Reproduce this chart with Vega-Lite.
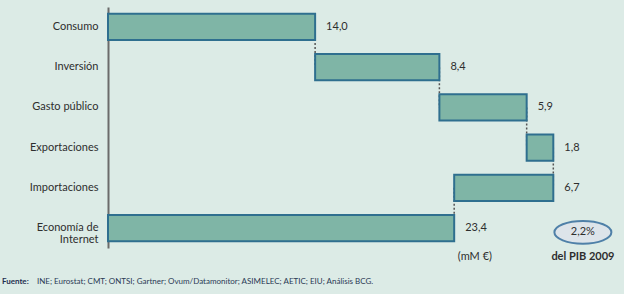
{
  "$schema": "https://vega.github.io/schema/vega-lite/v6.json",
  "autosize": "none",
  "width": 503,
  "height": 241,
  "padding": {"left": 108, "top": 7, "right": 13, "bottom": 46},
  "background": "#dcebe6",
  "config": {"view": {"stroke": null}, "font": "Lato"},
  "datasets": {
    "bars": [
      {"cat": "Consumo", "start": 0, "end": 14.0, "label": "14,0"},
      {"cat": "Inversión", "start": 14.0, "end": 22.4, "label": "8,4"},
      {"cat": "Gasto público", "start": 22.4, "end": 28.3, "label": "5,9"},
      {"cat": "Exportaciones", "start": 28.3, "end": 30.1, "label": "1,8"},
      {"cat": "Importaciones", "start": 23.4, "end": 30.1, "label": "6,7"},
      {"cat": "Economía de Internet", "start": 0, "end": 23.4, "label": "23,4"}
    ],
    "links": [
      {"from": "Consumo", "to": "Inversión", "x": 14.0},
      {"from": "Inversión", "to": "Gasto público", "x": 22.4},
      {"from": "Gasto público", "to": "Exportaciones", "x": 28.3},
      {"from": "Exportaciones", "to": "Importaciones", "x": 30.1},
      {"from": "Importaciones", "to": "Economía de Internet", "x": 23.4}
    ],
    "badge": [
      {"cat": "Economía de Internet", "x": 32.1, "text": "2,2%"}
    ],
    "pib": [
      {"cat": "Economía de Internet", "x": 32.1, "text": "del PIB 2009"}
    ],
    "unit": [
      {"cat": "Economía de Internet", "x": 24.8, "text": "(mM €)"}
    ],
    "srcbold": [
      {"cat": "Economía de Internet", "x": -7.17, "text": "Fuente:"}
    ],
    "src": [
      {"cat": "Economía de Internet", "x": -4.8, "text": "INE; Eurostat; CMT; ONTSI; Gartner; Ovum/Datamonitor; ASIMELEC; AETIC; EIU; Análisis BCG."}
    ]
  },
  "encoding": {
    "y": {
      "field": "cat",
      "type": "nominal",
      "scale": {
        "domain": ["Consumo", "Inversión", "Gasto público", "Exportaciones", "Importaciones", "Economía de Internet"],
        "paddingInner": 0.35,
        "paddingOuter": 0.17
      },
      "axis": {
        "title": null,
        "ticks": false,
        "domainColor": "#6b6b6b",
        "domainWidth": 2,
        "labelPadding": 10,
        "labelFontSize": 11,
        "labelColor": "#2e2e2e",
        "labelLineHeight": 12,
        "labelExpr": "datum.value == 'Economía de Internet' ? ['Economía de', 'Internet'] : datum.label"
      }
    }
  },
  "layer": [
    {
      "data": {"name": "links"},
      "mark": {"type": "rule", "strokeDash": [2, 2], "strokeWidth": 1.5, "color": "#555555"},
      "encoding": {
        "x": {"field": "x", "type": "quantitative", "scale": {"domain": [0, 34], "nice": false, "zero": false}, "axis": null},
        "y": {"field": "from", "type": "nominal"},
        "y2": {"field": "to"}
      }
    },
    {
      "data": {"name": "bars"},
      "mark": {"type": "bar", "fill": "#7fb5a6", "stroke": "#2f6f8f", "strokeWidth": 2},
      "encoding": {
        "x": {"field": "start", "type": "quantitative"},
        "x2": {"field": "end"}
      }
    },
    {
      "data": {"name": "bars"},
      "mark": {"type": "text", "align": "left", "dx": 11, "fontSize": 11, "color": "#2e2e2e"},
      "encoding": {
        "x": {"field": "end", "type": "quantitative"},
        "text": {"field": "label"}
      }
    },
    {
      "data": {"name": "badge"},
      "mark": {"type": "point", "shape": "M -1 0.15 A 1 0.4 0 1 0 1 0.15 A 1 0.4 0 1 0 -1 0.15 Z", "size": 3249, "filled": true, "fill": "#dde4ea", "stroke": "#4f80a8", "strokeWidth": 2, "opacity": 1},
      "encoding": {
        "x": {"field": "x", "type": "quantitative"}
      }
    },
    {
      "data": {"name": "badge"},
      "mark": {"type": "text", "dy": 4, "fontSize": 11, "color": "#2e2e2e"},
      "encoding": {
        "x": {"field": "x", "type": "quantitative"},
        "text": {"field": "text"}
      }
    },
    {
      "data": {"name": "pib"},
      "mark": {"type": "text", "dy": 29, "fontSize": 11, "fontWeight": "bold", "color": "#2e2e2e"},
      "encoding": {
        "x": {"field": "x", "type": "quantitative"},
        "text": {"field": "text"}
      }
    },
    {
      "data": {"name": "unit"},
      "mark": {"type": "text", "dy": 29, "fontSize": 11, "color": "#2e2e2e"},
      "encoding": {
        "x": {"field": "x", "type": "quantitative"},
        "text": {"field": "text"}
      }
    },
    {
      "data": {"name": "srcbold"},
      "mark": {"type": "text", "dy": 54, "align": "left", "fontSize": 8, "fontWeight": "bold", "color": "#1f2f50"},
      "encoding": {
        "x": {"field": "x", "type": "quantitative"},
        "text": {"field": "text"}
      }
    },
    {
      "data": {"name": "src"},
      "mark": {"type": "text", "dy": 54, "align": "left", "fontSize": 8, "color": "#2b3a55"},
      "encoding": {
        "x": {"field": "x", "type": "quantitative"},
        "text": {"field": "text"}
      }
    }
  ]
}
